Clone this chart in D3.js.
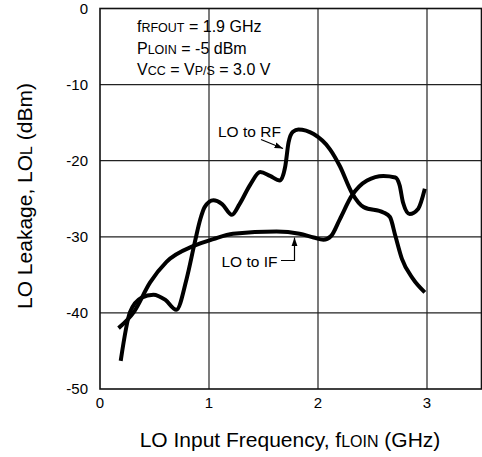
<!DOCTYPE html>
<html>
<head>
<meta charset="utf-8">
<script src="https://cdn.jsdelivr.net/npm/d3@7"></script>
<style>
  html, body { margin: 0; padding: 0; background: #fff; }
  svg { display: block; font-family: "Liberation Sans", Arial, sans-serif; }
</style>
</head>
<body>
<svg id="chart" width="482" height="457"></svg>
<script>
// LO leakage vs. LO input frequency (GHz, dBm)
const loToRfFreq = [0.19, 0.275, 0.38, 0.49, 0.60, 0.70, 0.795, 0.87, 0.92, 0.96, 1.04, 1.12, 1.21, 1.28, 1.38, 1.47, 1.56, 1.65, 1.70, 1.73, 1.77, 1.82, 1.96, 2.11, 2.20, 2.31, 2.42, 2.60, 2.66, 2.71, 2.77, 2.87, 2.98];
const loToRfDbm  = [-46.3, -39.9, -38.0, -37.6, -38.3, -39.6, -35.5, -30.7, -27.7, -26.1, -25.2, -25.7, -27.1, -25.7, -23.1, -21.5, -22.0, -22.6, -20.7, -17.6, -16.2, -15.9, -16.5, -18.5, -20.7, -24.2, -26.1, -26.8, -27.4, -29.9, -32.9, -35.5, -37.3];

const loToIfFreq = [0.17, 0.31, 0.46, 0.61, 0.86, 1.04, 1.22, 1.62, 1.83, 1.96, 2.05, 2.12, 2.20, 2.31, 2.45, 2.60, 2.71, 2.75, 2.78, 2.84, 2.92, 2.98];
const loToIfDbm  = [-42.0, -39.9, -36.0, -33.3, -31.2, -30.3, -29.6, -29.3, -29.6, -30.1, -30.4, -29.9, -27.7, -24.6, -22.6, -22.0, -22.2, -23.3, -25.5, -27.0, -26.3, -23.7];

const xTicks = [0, 1, 2, 3];
const yTicks = [0, -10, -20, -30, -40, -50];

const svg = d3.select("#chart");
const x = d3.scaleLinear().domain([0, 3.5]).range([100, 481.5]);
const y = d3.scaleLinear().domain([-50, 0]).range([389, 8.5]);

// grid
const grid = svg.append("g").attr("stroke", "#222").attr("stroke-width", 1.2);
grid.selectAll("line.v").data(xTicks.slice(1)).join("line")
  .attr("x1", d => x(d)).attr("x2", d => x(d))
  .attr("y1", y(0)).attr("y2", y(-50));
grid.selectAll("line.h").data(yTicks.slice(1, -1)).join("line")
  .attr("x1", x(0)).attr("x2", x(3.5))
  .attr("y1", d => y(d)).attr("y2", d => y(d));

// frame
svg.append("rect")
  .attr("x", x(0)).attr("y", y(0))
  .attr("width", x(3.5) - x(0)).attr("height", y(-50) - y(0))
  .attr("fill", "none").attr("stroke", "#111").attr("stroke-width", 1.6);

// tick labels
svg.append("g").selectAll("text").data(xTicks).join("text")
  .attr("x", d => x(d)).attr("y", 408)
  .attr("text-anchor", "middle").attr("font-size", 15)
  .text(d => d);
svg.append("g").selectAll("text").data(yTicks).join("text")
  .attr("x", 88).attr("y", d => y(d)).attr("dy", "0.36em")
  .attr("text-anchor", "end").attr("font-size", 15)
  .text(d => d);

// axis titles
const xt = svg.append("text").attr("x", 290).attr("y", 447)
  .attr("text-anchor", "middle").attr("font-size", 21);
xt.append("tspan").text("LO Input Frequency, f");
xt.append("tspan").attr("font-size", 16).text("LOIN");
xt.append("tspan").text(" (GHz)");

const yt = svg.append("text").attr("transform", "translate(32,196) rotate(-90)")
  .attr("text-anchor", "middle").attr("font-size", 21);
yt.append("tspan").text("LO Leakage, LO");
yt.append("tspan").attr("font-size", 16).text("L");
yt.append("tspan").text(" (dBm)");

// conditions block
const cond = [
  [["f", 0], ["RFOUT", 1], [" = 1.9 GHz", 0]],
  [["P", 0], ["LOIN", 1], [" = -5 dBm", 0]],
  [["V", 0], ["CC", 1], [" = V", 0], ["P/S", 1], [" = 3.0 V", 0]]
];
cond.forEach((parts, i) => {
  const t = svg.append("text").attr("x", 137).attr("y", 32 + i * 21.5).attr("font-size", 16);
  parts.forEach(([s, small]) => {
    const ts = t.append("tspan").text(s);
    if (small) ts.attr("font-size", 12.5);
  });
});

// curves
const line = d3.line().x(d => x(d[0])).y(d => y(d[1])).curve(d3.curveMonotoneX);
const rf = d3.zip(loToRfFreq, loToRfDbm);
const lif = d3.zip(loToIfFreq, loToIfDbm);
svg.append("path").datum(lif).attr("d", line)
  .attr("fill", "none").attr("stroke", "#000").attr("stroke-width", 4);
svg.append("path").datum(rf).attr("d", line)
  .attr("fill", "none").attr("stroke", "#000").attr("stroke-width", 4);

// curve labels
svg.append("defs").append("marker")
  .attr("id", "arrow").attr("viewBox", "0 0 10 10")
  .attr("refX", 10).attr("refY", 5)
  .attr("markerWidth", 7).attr("markerHeight", 7)
  .attr("orient", "auto")
  .append("path").attr("d", "M0,1.5L10,5L0,8.5Z").attr("fill", "#000");

svg.append("text").attr("x", 218).attr("y", 137).attr("font-size", 15.5).text("LO to RF");
svg.append("line")
  .attr("x1", 261).attr("y1", 139.5).attr("x2", 283).attr("y2", 148.5)
  .attr("stroke", "#000").attr("stroke-width", 1.2)
  .attr("marker-end", "url(#arrow)");

svg.append("text").attr("x", 221.5).attr("y", 266.5).attr("font-size", 15.5).text("LO to IF");
svg.append("path")
  .attr("d", "M281,260.5H294.5V237.5")
  .attr("fill", "none").attr("stroke", "#000").attr("stroke-width", 1.2)
  .attr("marker-end", "url(#arrow)");
</script>
</body>
</html>
